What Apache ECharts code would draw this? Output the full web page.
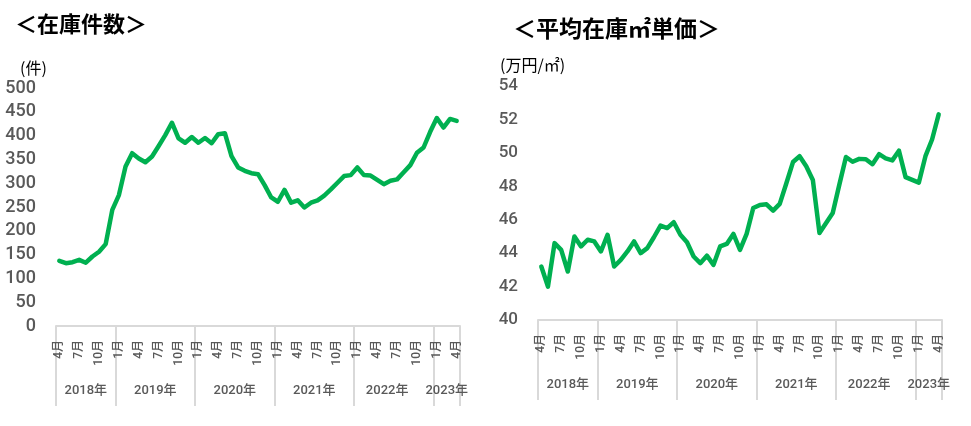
<!DOCTYPE html>
<html>
<head>
<meta charset="utf-8">
<script src="https://cdn.jsdelivr.net/npm/echarts@6/dist/echarts.min.js"></script>
<style>
  html, body { margin: 0; padding: 0; background: #fff; }
  #main { width: 971px; height: 426px; }
</style>
</head>
<body>
<div id="main"></div>
<script>
// 2018年4月 - 2023年4月 (monthly)
var months = [];
for (var y = 2018; y <= 2023; y++) {
    for (var m = 1; m <= 12; m++) {
        if ((y === 2018 && m < 4) || (y === 2023 && m > 4)) continue;
        months.push(y + '-' + m);
    }
}

// 在庫件数 (件)
var stockCount = [
    137, 132, 134, 139, 133, 146, 156, 172, 244,           // 2018 4-12
    275, 335, 363, 352, 344, 356, 378, 401, 427, 394, 385, 397, // 2019
    385, 395, 384, 403, 405, 357, 333, 326, 321, 319, 296, 270, // 2020
    261, 286, 259, 264, 249, 259, 264, 274, 287, 301, 315, 317, // 2021
    333, 317, 316, 307, 298, 305, 308, 323, 338, 364, 375, 408, // 2022
    437, 417, 435, 431                                      // 2023 1-4
];

// 平均在庫㎡単価 (万円/㎡)
var unitPrice = [
    43.2, 42.0, 44.6, 44.2, 42.9, 45.0, 44.4, 44.8, 44.7,
    44.1, 45.1, 43.2, 43.6, 44.1, 44.7, 44.0, 44.3, 44.95, 45.65, 45.5, 45.85,
    45.1, 44.65, 43.8, 43.4, 43.85, 43.3, 44.4, 44.55, 45.15, 44.2, 45.15, 46.7,
    46.88, 46.92, 46.54, 46.95, 48.18, 49.45, 49.8, 49.2, 48.38, 45.2, 45.8, 46.4,
    48.1, 49.75, 49.47, 49.64, 49.62, 49.32, 49.92, 49.67, 49.55, 50.13, 48.55, 48.38,
    48.22, 49.8, 50.8, 52.3
];

// 年の区切り (カテゴリ番号) と年ラベル
var yearBounds = [0, 9, 21, 33, 45, 57, 61];
var yearCenters = [4.5, 15, 27, 39, 50, 59];
var yearLabels = ['2018年', '2019年', '2020年', '2021年', '2022年', '2023年'];

var countTicks = { min: 0, max: 500, interval: 50 };
var priceTicks = { min: 40, max: 54, interval: 2 };

var green = '#00b050';
var gray = '#595959';
var lineGray = '#d9d9d9';
var numFont = 'Roboto, "Noto Sans CJK JP", sans-serif';
var jpFont = '"Noto Sans CJK JP", sans-serif';

var myChart = echarts.init(document.getElementById('main'));

function monthAxis(gi) {
    return {
        type: 'category',
        gridIndex: gi,
        data: months,
        boundaryGap: true,
        axisLine: { lineStyle: { color: lineGray, width: 2 } },
        axisTick: { show: false },
        axisLabel: {
            rotate: 90,
            margin: 14,
            fontSize: 12,
            fontWeight: 500,
            color: gray,
            fontFamily: numFont,
            interval: function (idx, val) {
                return Number(val.split('-')[1]) % 3 === 1;
            },
            formatter: function (val) {
                return Number(val.split('-')[1]) + '月';
            }
        },
        splitLine: { show: false }
    };
}

function yearAxis(gi) {
    return {
        type: 'value',
        gridIndex: gi,
        position: 'bottom',
        min: 0,
        max: months.length,
        axisLine: { show: false },
        splitLine: { show: false },
        axisTick: {
            show: true,
            customValues: yearBounds,
            length: 80,
            lineStyle: { color: lineGray, width: 2 }
        },
        axisLabel: {
            customValues: yearCenters,
            margin: 58,
            fontSize: 13,
            fontWeight: 500,
            color: gray,
            fontFamily: numFont,
            formatter: function (v) {
                var i = yearCenters.indexOf(v);
                return i >= 0 ? yearLabels[i] : '';
            }
        }
    };
}

function valueAxis(gi, t, size) {
    return {
        type: 'value',
        gridIndex: gi,
        min: t.min,
        max: t.max,
        interval: t.interval,
        axisLine: { show: false },
        axisTick: { show: false },
        splitLine: { show: false },
        axisLabel: {
            margin: 20,
            fontSize: size,
            fontWeight: 500,
            color: gray,
            fontFamily: numFont
        }
    };
}

var option = {
    animation: false,
    backgroundColor: '#fff',
    title: [
        { text: '＜在庫件数＞', left: 10, top: 8,
          textStyle: { fontSize: 22, fontWeight: 'bold', color: '#000', fontFamily: jpFont } },
        { text: '＜平均在庫㎡単価＞', left: 508, top: 12,
          textStyle: { fontSize: 23, fontWeight: 'bold', color: '#000', fontFamily: jpFont } },
        { text: '(件)', left: 15, top: 55,
          textStyle: { fontSize: 16, fontWeight: 'normal', color: '#000', fontFamily: jpFont } },
        { text: '(万円/㎡)', left: 495, top: 52,
          textStyle: { fontSize: 16, fontWeight: 'normal', color: '#000', fontFamily: jpFont } }
    ],
    grid: [
        { left: 56, right: 511, top: 88, bottom: 100 },
        { left: 538, right: 29, top: 86, bottom: 106 }
    ],
    xAxis: [monthAxis(0), yearAxis(0), monthAxis(1), yearAxis(1)],
    yAxis: [valueAxis(0, countTicks, 18), valueAxis(1, priceTicks, 17)],
    series: [
        {
            name: '在庫件数',
            type: 'line',
            xAxisIndex: 0,
            yAxisIndex: 0,
            data: stockCount,
            showSymbol: false,
            lineStyle: { color: green, width: 4.5, join: 'round', cap: 'round' }
        },
        {
            name: '平均在庫㎡単価',
            type: 'line',
            xAxisIndex: 2,
            yAxisIndex: 1,
            data: unitPrice,
            showSymbol: false,
            lineStyle: { color: green, width: 4.5, join: 'round', cap: 'round' }
        }
    ]
};

myChart.setOption(option);
</script>
</body>
</html>
